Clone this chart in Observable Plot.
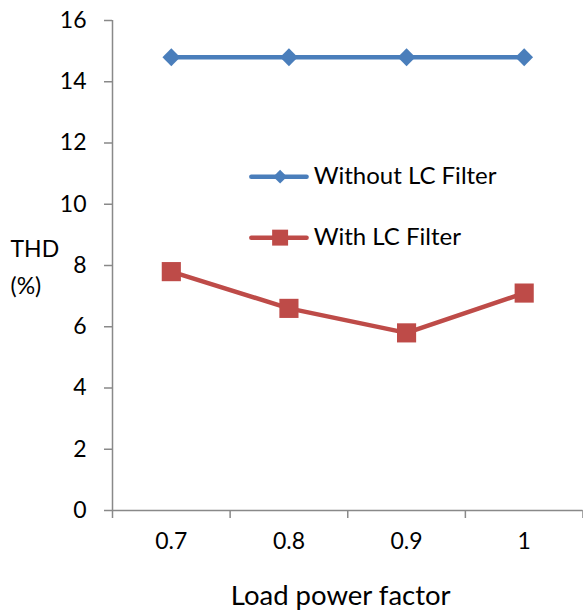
<!DOCTYPE html>
<html><head><meta charset="utf-8">
<script src="https://cdn.jsdelivr.net/npm/d3@7"></script>
<script src="https://cdn.jsdelivr.net/npm/@observablehq/plot@0.6"></script>
<style>body{margin:0;background:#fff}</style>
</head><body><div id="chart"></div>
<script>
const powerFactor = [0.7, 0.8, 0.9, 1.0];
const tickLabels = ["0.7", "0.8", "0.9", "1"];
const withoutFilter = [14.8, 14.8, 14.8, 14.8];
const withFilter = [7.8, 6.6, 5.8, 7.1];
const seriesNames = ["Without LC Filter", "With LC Filter"];
const boundaries = [0.65, 0.75, 0.85, 0.95, 1.05];
const yTicks = [0, 2, 4, 6, 8, 10, 12, 14, 16];

const blue = "#4A7EBB", red = "#BE4B48", gray = "#898989";
const d1 = powerFactor.map((x, i) => ({x, y: withoutFilter[i]}));
const d2 = powerFactor.map((x, i) => ({x, y: withFilter[i]}));
const legend = [
  {name: seriesNames[0], y: 10.9, color: blue},
  {name: seriesNames[1], y: 8.91, color: red}
];

const chart = Plot.plot({
  width: 583, height: 612,
  marginLeft: 112, marginRight: 0.5, marginTop: 20, marginBottom: 102,
  style: {fontFamily: "Lato, 'Open Sans', sans-serif", fontSize: "23px", color: "#000", background: "#fff"},
  x: {type: "linear", domain: [0.65, 1.05]},
  y: {domain: [0, 16]},
  marks: [
    Plot.ruleY([0], {stroke: gray, strokeWidth: 1.5}),
    Plot.ruleX([0.65], {stroke: gray, strokeWidth: 1.5}),
    Plot.axisY({ticks: yTicks, tickSize: 8, tickPadding: 18, stroke: gray, strokeWidth: 1.5, fill: "#000", label: null, fontSize: 23}),
    Plot.axisX({ticks: boundaries, tickSize: 8, tickFormat: () => "", stroke: gray, strokeWidth: 1.5, label: null}),
    Plot.axisX({ticks: powerFactor, tickSize: 0, tickPadding: 22, tickFormat: (d, i) => tickLabels[i], fill: "#000", label: null, fontSize: 23}),
    Plot.text(["Load power factor"], {x: 0.844, y: 0, dy: 86, fontSize: 27.5, fill: "#000", lineAnchor: "middle"}),
    Plot.text(["THD\n(%)"], {x: 0.65, y: 8.05, dx: -102, textAnchor: "start", lineHeight: 1.6, fontSize: 23, fill: "#000"}),
    Plot.line(d1, {x: "x", y: "y", stroke: blue, strokeWidth: 4.5}),
    Plot.dot(d1, {x: "x", y: "y", symbol: "diamond2", r: 8, fill: blue, stroke: "none"}),
    Plot.line(d2, {x: "x", y: "y", stroke: red, strokeWidth: 4.5}),
    Plot.dot(d2, {x: "x", y: "y", symbol: "square", r: 10.8, fill: red, stroke: "none"}),
    // legend
    Plot.link(legend, {x1: 0.768, x2: 0.815, y1: "y", y2: "y", stroke: "color", strokeWidth: 4.5, strokeLinecap: "round"}),
    Plot.dot(legend.slice(0, 1), {x: 0.7925, y: "y", symbol: "diamond2", r: 6.2, fill: blue, stroke: "none"}),
    Plot.dot(legend.slice(1), {x: 0.7925, y: "y", symbol: "square", r: 9, fill: red, stroke: "none"}),
    Plot.text(legend, {x: 0.821, y: "y", text: "name", textAnchor: "start", fontSize: 24, fill: "#000"})
  ]
});
document.getElementById("chart").append(chart);
</script></body></html>
